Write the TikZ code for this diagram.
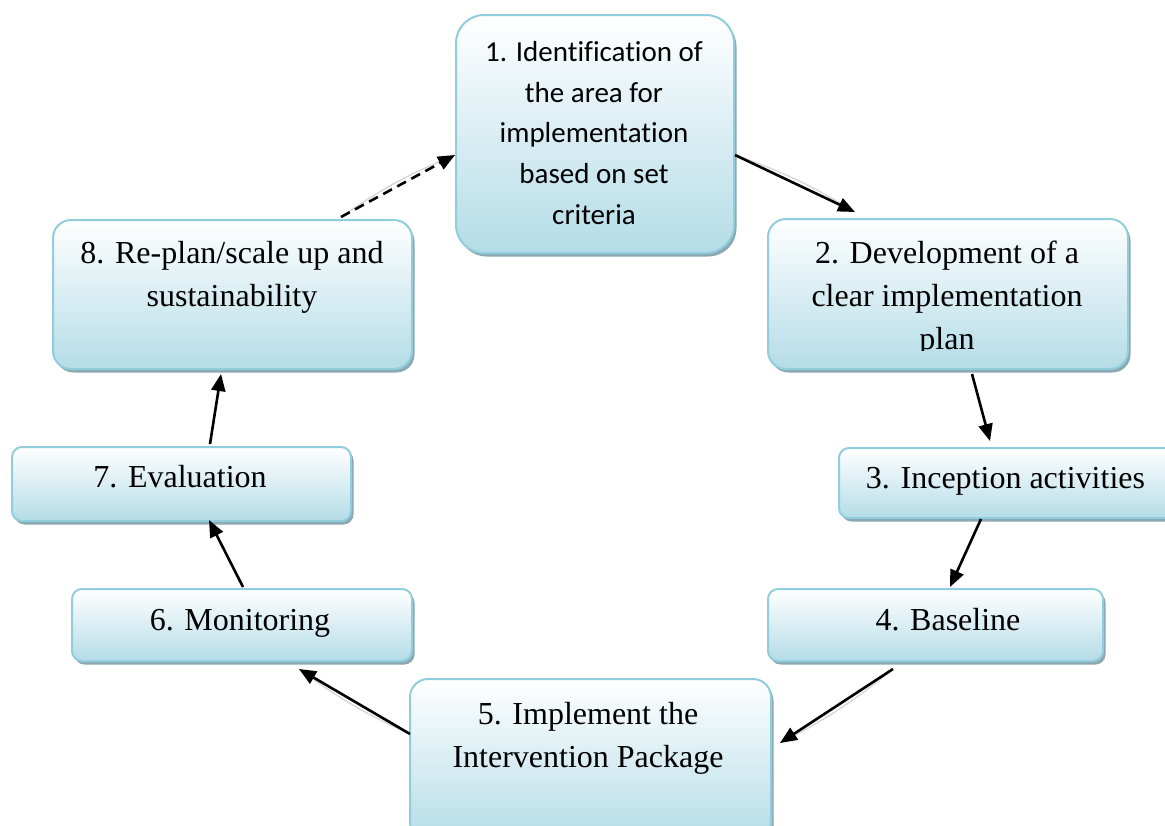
\documentclass[tikz,border=0pt]{standalone}
\usepackage{fontspec}
\setmainfont{Liberation Serif}
\newfontfamily\calfont[Ligatures=NoCommon]{Carlito}
\usetikzlibrary{shadows,arrows.meta,calc}
\definecolor{boxblue}{RGB}{180,220,231}
\definecolor{boxedge}{RGB}{146,205,221}
\definecolor{shadowc}{RGB}{140,168,176}
\begin{document}
\begin{tikzpicture}[x=1pt,y=-1pt,
  box/.style={draw=boxedge, line width=2pt, top color=white, bottom color=boxblue,
    inner sep=0pt, anchor=north west,
    drop shadow={shadow xshift=2.5pt, shadow yshift=-3.5pt, fill=shadowc, opacity=1}},
  lbl/.style={font=\fontsize{32}{43}\selectfont, align=center, inner sep=0pt},
  arr/.style={line width=2.6pt, -{Triangle[length=17pt,width=14pt]}},
  ghost/.style={line width=1.5pt, draw=black!15}]
\useasboundingbox (0,0) rectangle (1165,825);
\clip (0,0) rectangle (1165,825);

% boxes
\node[box, rounded corners=28pt, minimum width=278pt, minimum height=238pt] (b1) at (455,14) {};
\node[box, rounded corners=18pt, minimum width=360pt, minimum height=150pt] (b2) at (767,218) {};
\node[box, rounded corners=10pt, minimum width=337pt, minimum height=70pt] (b3) at (838,447) {};
\node[box, rounded corners=10pt, minimum width=335pt, minimum height=72pt] (b4) at (767,588) {};
\node[box, rounded corners=18pt, minimum width=361pt, minimum height=162pt] (b5) at (409,678) {};
\node[box, rounded corners=10pt, minimum width=340pt, minimum height=72pt] (b6) at (71,588) {};
\node[box, rounded corners=10pt, minimum width=339pt, minimum height=74pt] (b7) at (11,446) {};
\node[box, rounded corners=18pt, minimum width=359pt, minimum height=149pt] (b8) at (52,219) {};

% texts
\node[lbl, font=\calfont\fontsize{29}{40.75}\selectfont] (t1) at (594,133)
  {1. Identification of\\the area for\\implementation\\based on set\\criteria};
\begin{scope}
  \clip (767,218) rectangle (1127,350);
  \node[lbl] (t2) at (947,298.5) {2. Development of a\\clear implementation\\plan};
\end{scope}
\node[lbl] (t3) at (1005.5,481.5) {3. Inception activities};
\node[lbl] (t4) at (948,620) {4. Baseline};
\node[lbl] (t5) at (588,738.5) {5. Implement the\\Intervention Package};
\node[lbl] (t6) at (240,623.5) {6. Monitoring};
\node[lbl] (t7) at (180,477) {7. Evaluation};
\node[lbl] (t8) at (232,277) {8. Re-plan/scale up and\\sustainability};

% connector points
\coordinate (s12) at ($(b1.north east)+(0,141)$);
\coordinate (e12) at ($(b2.north west)+(88,-6)$);
\coordinate (s23) at ($(b2.south west)+(205,4)$);
\coordinate (e23) at ($(b3.north west)+(152,-6)$);
\coordinate (s34) at ($(b3.south west)+(143,0)$);
\coordinate (e34) at ($(b4.north west)+(183,-1)$);
\coordinate (s45) at ($(b4.south west)+(126,7)$);
\coordinate (e45) at ($(b5.north east)+(8,65)$);
\coordinate (s56) at ($(b5.north west)+(1,56)$);
\coordinate (e56) at ($(b6.south west)+(228,7)$);
\coordinate (s67) at ($(b6.north west)+(172,-1)$);
\coordinate (e67) at ($(b7.south west)+(198,-2)$);
\coordinate (s78) at ($(b7.north west)+(199,-2)$);
\coordinate (e78) at ($(b8.south west)+(169,4)$);
\coordinate (s81) at ($(b8.north east)+(-72,-2)$);
\coordinate (e81) at ($(b1.north west)+(0,141)$);

% faint underlying connectors
\draw[ghost] (s12) to[bend left=6] (e12);
\draw[ghost] (s45) to[bend left=6] (e45);
\draw[ghost] (s56) to[bend left=6] (e56);
\draw[ghost] (s81) to[bend left=6] (e81);

% arrows
\draw[arr] (s12) -- (e12);
\draw[arr] (s23) -- (e23);
\draw[arr] (s34) -- (e34);
\draw[arr] (s45) -- (e45);
\draw[arr] (s56) -- (e56);
\draw[arr] (s67) -- (e67);
\draw[arr] (s78) -- (e78);
\draw[arr, dash pattern=on 10pt off 6pt] (s81) -- (e81);
\end{tikzpicture}
\end{document}
